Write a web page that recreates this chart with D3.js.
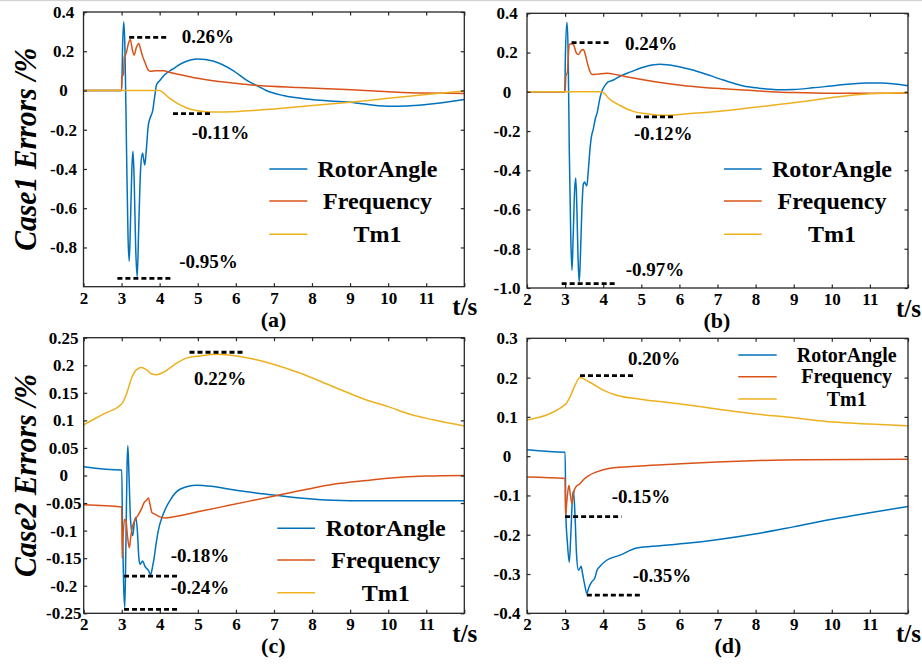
<!DOCTYPE html>
<html>
<head>
<meta charset="utf-8">
<script src="https://cdn.jsdelivr.net/npm/d3@7"></script>
<style>
  body { margin: 0; background: #fff; }
  svg { display: block; }
  svg text { font-family: "Liberation Serif", Tinos, "Times New Roman", Times, "Nimbus Roman", "DejaVu Serif", "Noto Serif", serif !important; font-weight: bold; fill: #000; }
</style>
</head>
<body>
<svg id="fig" width="922" height="665"></svg>
<script>
// ---- shared axis content ----
const timeTicks = [2, 3, 4, 5, 6, 7, 8, 9, 10, 11, 12];
const timeTickLabels = ["2", "3", "4", "5", "6", "7", "8", "9", "10", "11", "t/s"];
const seriesNames = ["RotorAngle", "Frequency", "Tm1"];

// ---- (a) Case1, first scenario ----
const aRotor = [[2,0],[2.98,0],[3.0,0],[3.03,0.25],[3.06,0.35],[3.09,0.2],[3.13,-0.3],[3.17,-0.75],[3.2,-0.87],[3.23,-0.7],[3.27,-0.4],[3.3,-0.31],[3.33,-0.45],[3.37,-0.8],[3.41,-0.95],[3.45,-0.7],[3.5,-0.4],[3.55,-0.32],[3.58,-0.35],[3.61,-0.38],[3.65,-0.3],[3.7,-0.18],[3.75,-0.14],[3.82,-0.1],[3.87,-0.03],[3.92,0.03],[4.0,0.05],[4.13,0.08],[4.35,0.11],[4.6,0.14],[5.0,0.16],[5.4,0.15],[5.94,0.1],[6.3,0.05],[6.6,0.02],[6.8,0.0],[7.25,-0.026],[7.99,-0.046],[9.0,-0.06],[10.0,-0.08],[10.5,-0.079],[11.0,-0.072],[12,-0.046]];
const aFreq = [[2,0],[3.0,0],[3.01,0.075],[3.05,0.08],[3.07,0.17],[3.12,0.19],[3.18,0.24],[3.23,0.26],[3.28,0.21],[3.33,0.18],[3.39,0.22],[3.45,0.24],[3.5,0.21],[3.56,0.17],[3.62,0.14],[3.68,0.11],[3.75,0.098],[3.9,0.1],[4.1,0.1],[4.3,0.09],[4.55,0.08],[5.0,0.062],[5.4,0.05],[5.85,0.04],[6.6,0.025],[7.65,0.015],[8.9,0.005],[9.9,-0.005],[10.9,-0.013],[12,-0.015]];
const aTm1 = [[2,0],[4.0,0],[4.1,-0.012],[4.2,-0.03],[4.35,-0.052],[4.55,-0.075],[4.75,-0.092],[4.95,-0.102],[5.2,-0.108],[5.45,-0.11],[5.94,-0.108],[7.0,-0.094],[8.0,-0.077],[9.0,-0.06],[10.0,-0.04],[11.0,-0.02],[12,-0.003]];
const aYTicks = [-0.8, -0.6, -0.4, -0.2, 0, 0.2, 0.4];
const aYTickLabels = ["-0.8", "-0.6", "-0.4", "-0.2", "0", "0.2", "0.4"];
const aNotes = [
  { text: "0.26%", value: 0.26, from: 3.2, to: 4.21 },
  { text: "-0.11%", value: -0.11, from: 4.35, to: 5.36 },
  { text: "-0.95%", value: -0.95, from: 2.89, to: 4.34 }
];

// ---- (b) Case1, second scenario ----
const bRotor = [[2,0],[2.99,0],[3.01,0.2],[3.05,0.355],[3.08,0.2],[3.11,-0.3],[3.15,-0.75],[3.18,-0.91],[3.21,-0.75],[3.25,-0.5],[3.28,-0.44],[3.31,-0.6],[3.34,-0.85],[3.37,-0.97],[3.4,-0.85],[3.44,-0.6],[3.48,-0.47],[3.51,-0.46],[3.54,-0.47],[3.57,-0.48],[3.61,-0.4],[3.65,-0.3],[3.69,-0.23],[3.74,-0.19],[3.79,-0.14],[3.85,-0.1],[3.9,-0.045],[3.96,0],[4.04,0.03],[4.13,0.05],[4.27,0.06],[4.5,0.085],[4.7,0.1],[5.14,0.13],[5.49,0.14],[5.93,0.13],[6.54,0.1],[7.15,0.06],[7.68,0.03],[8.03,0.02],[8.55,0.011],[9.0,0.012],[9.5,0.02],[10.1,0.032],[10.9,0.045],[11.3,0.045],[12,0.031]];
const bFreq = [[2,0],[3.0,0],[3.02,0.08],[3.06,0.1],[3.09,0.2],[3.11,0.24],[3.16,0.245],[3.22,0.24],[3.29,0.2],[3.35,0.19],[3.42,0.21],[3.48,0.215],[3.53,0.19],[3.58,0.15],[3.64,0.11],[3.71,0.088],[3.85,0.09],[4.09,0.095],[4.4,0.085],[4.79,0.07],[5.4,0.05],[6.2,0.03],[7.15,0.015],[8.1,0.004],[9.0,-0.004],[10.0,-0.008],[12,-0.008]];
const bTm1 = [[2,0],[3.95,0],[4.05,-0.012],[4.13,-0.03],[4.44,-0.07],[4.79,-0.1],[5.23,-0.114],[5.67,-0.12],[6.37,-0.11],[7.5,-0.09],[8.38,-0.07],[9.25,-0.05],[10.1,-0.027],[11,-0.01],[12,-0.005]];
const bYTicks = [-1.0, -0.8, -0.6, -0.4, -0.2, 0, 0.2, 0.4];
const bYTickLabels = ["-1.0", "-0.8", "-0.6", "-0.4", "-0.2", "0", "0.2", "0.4"];
const bNotes = [
  { text: "0.24%", value: 0.24, from: 3.17, to: 4.2 },
  { text: "-0.12%", value: -0.12, from: 4.86, to: 5.88 },
  { text: "-0.97%", value: -0.97, from: 2.91, to: 4.35 }
];

// ---- (c) Case2, first scenario ----
const cRotor = [[2,0.016],[2.99,0.01],[3.0,0.01],[3.02,-0.1],[3.05,-0.2],[3.08,-0.24],[3.11,-0.12],[3.14,0.02],[3.16,0.054],[3.19,0.0],[3.23,-0.08],[3.29,-0.109],[3.33,-0.085],[3.37,-0.076],[3.41,-0.1],[3.45,-0.15],[3.48,-0.161],[3.55,-0.155],[3.61,-0.165],[3.7,-0.172],[3.76,-0.18],[3.81,-0.165],[3.85,-0.15],[3.9,-0.125],[3.96,-0.1],[4.09,-0.07],[4.27,-0.045],[4.53,-0.025],[4.97,-0.0175],[5.4,-0.02],[5.93,-0.026],[6.8,-0.034],[7.68,-0.041],[8.56,-0.045],[9.43,-0.046],[12,-0.046]];
const cFreq = [[2,-0.053],[3.0,-0.057],[3.01,-0.15],[3.03,-0.12],[3.07,-0.08],[3.11,-0.082],[3.15,-0.11],[3.2,-0.131],[3.23,-0.115],[3.26,-0.1],[3.35,-0.08],[3.41,-0.074],[3.52,-0.06],[3.58,-0.05],[3.65,-0.045],[3.7,-0.041],[3.75,-0.055],[3.79,-0.067],[3.87,-0.07],[4.0,-0.075],[4.14,-0.077],[4.36,-0.075],[5.06,-0.065],[5.76,-0.055],[6.46,-0.045],[7.16,-0.035],[7.86,-0.025],[8.56,-0.016],[9.43,-0.009],[10,-0.005],[11,-0.001],[12,0]];
const cTm1 = [[2,0.092],[2.5,0.111],[3.0,0.13],[3.13,0.149],[3.26,0.177],[3.39,0.192],[3.52,0.196],[3.65,0.192],[3.79,0.184],[3.92,0.183],[4.09,0.187],[4.36,0.2],[4.7,0.213],[5.06,0.217],[5.5,0.22],[6.02,0.217],[6.54,0.21],[6.98,0.202],[7.68,0.186],[8.56,0.161],[9.43,0.137],[10,0.125],[10.57,0.111],[11.18,0.101],[12,0.09]];
const cYTicks = [-0.25, -0.2, -0.15, -0.1, -0.05, 0, 0.05, 0.1, 0.15, 0.2, 0.25];
const cYTickLabels = ["-0.25", "-0.2", "-0.15", "-0.1", "-0.05", "0", "0.05", "0.1", "0.15", "0.2", "0.25"];
const cNotes = [
  { text: "0.22%", value: 0.22, from: 4.78, to: 6.24 },
  { text: "-0.18%", value: -0.18, from: 3.06, to: 4.53 },
  { text: "-0.24%", value: -0.24, from: 3.06, to: 4.53 }
];

// ---- (d) Case2, second scenario ----
const dRotor = [[2,0.016],[2.99,0.01],[3.0,0.01],[3.02,-0.15],[3.06,-0.22],[3.11,-0.27],[3.15,-0.2],[3.19,-0.11],[3.22,-0.089],[3.26,-0.15],[3.3,-0.25],[3.35,-0.29],[3.39,-0.285],[3.42,-0.28],[3.46,-0.3],[3.52,-0.33],[3.57,-0.35],[3.62,-0.335],[3.7,-0.32],[3.78,-0.31],[3.84,-0.29],[3.9,-0.282],[4.09,-0.265],[4.44,-0.252],[4.88,-0.234],[5.49,-0.228],[6.19,-0.222],[6.98,-0.213],[7.94,-0.199],[8.99,-0.18],[10.04,-0.16],[11.0,-0.144],[12,-0.128]];
const dFreq = [[2,-0.053],[3.0,-0.057],[3.01,-0.15],[3.05,-0.11],[3.1,-0.074],[3.14,-0.1],[3.18,-0.12],[3.22,-0.095],[3.27,-0.08],[3.39,-0.07],[3.5,-0.058],[3.61,-0.05],[3.83,-0.04],[4.18,-0.031],[4.97,-0.025],[5.93,-0.02],[6.98,-0.015],[8.1,-0.011],[9.3,-0.009],[12,-0.008]];
const dTm1 = [[2,0.092],[3.0,0.131],[3.13,0.151],[3.26,0.18],[3.39,0.2],[3.45,0.199],[3.52,0.195],[3.74,0.183],[4.0,0.168],[4.35,0.155],[4.97,0.145],[5.93,0.134],[6.98,0.12],[7.94,0.108],[8.99,0.098],[10.04,0.087],[11.0,0.082],[12,0.077]];
const dYTicks = [-0.4, -0.3, -0.2, -0.1, 0, 0.1, 0.2, 0.3];
const dYTickLabels = ["-0.4", "-0.3", "-0.2", "-0.1", "0", "0.1", "0.2", "0.3"];
const dNotes = [
  { text: "0.20%", value: 0.20, from: 3.39, to: 4.83 },
  { text: "-0.15%", value: -0.15, from: 3.0, to: 4.48 },
  { text: "-0.35%", value: -0.35, from: 3.57, to: 5.01 }
];

// ---- styling ----
const lineColors = ["#0072BD", "#D95319", "#EDB120"];
const frameColor = "#262626";
const serifStack = '"Liberation Serif", Tinos, "Times New Roman", Times, "Nimbus Roman", "DejaVu Serif", "Noto Serif", serif';

// ---- panel layout ----
const panels = [
  { tag: "(a)", tagX: 273.5, tagY: 326.5, yLabel: "Case1 Errors /%",
    box: { l: 83.5, r: 464.3, t: 12, b: 286.7 }, yDomain: [-1.0, 0.4],
    series: [aRotor, aFreq, aTm1], yTicks: aYTicks, yTickLabels: aYTickLabels, notes: aNotes,
    noteLabels: [[181.7, 42.7], [191.7, 139.3], [179.3, 268.3]],
    legend: { x1: 269.3, x2: 307.3, rows: [169, 201, 234.3], textX: 377.5, size: 24, dy: 8 } },
  { tag: "(b)", tagX: 717, tagY: 328, yLabel: null,
    box: { l: 527, r: 908, t: 13.3, b: 288 }, yDomain: [-1.0, 0.4],
    series: [bRotor, bFreq, bTm1], yTicks: bYTicks, yTickLabels: bYTickLabels, notes: bNotes,
    noteLabels: [[625, 50], [634, 140], [625.7, 276]],
    legend: { x1: 724, x2: 761.7, rows: [169, 201, 234.3], textX: 832, size: 24, dy: 8 } },
  { tag: "(c)", tagX: 273.3, tagY: 653, yLabel: "Case2 Errors /%",
    box: { l: 83.7, r: 464.3, t: 337.7, b: 613.3 }, yDomain: [-0.25, 0.25],
    series: [cRotor, cFreq, cTm1], yTicks: cYTicks, yTickLabels: cYTickLabels, notes: cNotes,
    noteLabels: [[194, 385], [170.7, 562.3], [170.7, 594.3]],
    legend: { x1: 277.3, x2: 315, rows: [528.3, 560, 592.7], textX: 385.8, size: 24, dy: 8 } },
  { tag: "(d)", tagX: 728, tagY: 653, yLabel: null,
    box: { l: 527, r: 908, t: 338.3, b: 613.3 }, yDomain: [-0.4, 0.3],
    series: [dRotor, dFreq, dTm1], yTicks: dYTicks, yTickLabels: dYTickLabels, notes: dNotes,
    noteLabels: [[628, 365], [611.7, 503.3], [632.7, 581.7]],
    legend: { x1: 738.3, x2: 776.7, rows: [355, 376.7, 399], textX: 846.7, size: 20, dy: 6.5 } }
];

const svg = d3.select("#fig").attr("font-family", serifStack);
svg.append("rect").attr("width", 922).attr("height", 665).attr("fill", "#fff");
svg.append("rect").attr("x", 0).attr("y", 0).attr("width", 922).attr("height", 1.2).attr("fill", "#d4d4d4");

panels.forEach((p, pi) => {
  const { l, r, t, b } = p.box;
  const x = d3.scaleLinear().domain([2, 12]).range([l, r]);
  const y = d3.scaleLinear().domain(p.yDomain).range([b, t]);
  const g = svg.append("g");

  const clipId = "clip" + pi;
  g.append("clipPath").attr("id", clipId)
    .append("rect").attr("x", l).attr("y", t).attr("width", r - l).attr("height", b - t);

  // series curves
  const line = d3.line().x(d => x(d[0])).y(d => y(d[1])).curve(d3.curveMonotoneX);
  const curves = g.append("g").attr("clip-path", `url(#${clipId})`);
  p.series.forEach((s, i) => {
    curves.append("path").datum(s).attr("d", line)
      .attr("fill", "none").attr("stroke", lineColors[i]).attr("stroke-width", 1.5)
      .attr("stroke-linejoin", "round");
  });

  // axes with inward ticks on all four sides
  const tick = -3.5;
  const bottom = g.append("g").attr("transform", `translate(0,${b})`)
    .call(d3.axisBottom(x).tickValues(timeTicks).tickSize(tick).tickPadding(5)
      .tickFormat((d, i) => timeTickLabels[i]));
  bottom.selectAll("text").attr("font-size", 17);
  bottom.selectAll(".tick").filter((d, i) => i === timeTicks.length - 1)
    .select("text").attr("font-size", 25).attr("dy", "0.95em");

  const left = g.append("g").attr("transform", `translate(${l},0)`)
    .call(d3.axisLeft(y).tickValues(p.yTicks).tickSize(tick)
      .tickFormat((d, i) => p.yTickLabels[i]));
  left.selectAll("text").attr("font-size", 17).attr("text-anchor", "middle").attr("x", -20);

  g.append("g").attr("transform", `translate(0,${t})`)
    .call(d3.axisTop(x).tickValues(timeTicks).tickSize(tick).tickFormat(""));
  g.append("g").attr("transform", `translate(${r},0)`)
    .call(d3.axisRight(y).tickValues(p.yTicks).tickSize(tick).tickFormat(""));

  g.selectAll(".domain").remove();
  g.selectAll("g").attr("font-family", serifStack);
  g.selectAll(".tick line").attr("stroke", frameColor).attr("stroke-width", 1.2);
  g.selectAll(".tick text").attr("fill", "#000").attr("font-weight", "bold");

  g.append("rect").attr("x", l).attr("y", t).attr("width", r - l).attr("height", b - t)
    .attr("fill", "none").attr("stroke", frameColor).attr("stroke-width", 1.3);

  // peak / trough markers
  p.notes.forEach((n, i) => {
    const off = n.value > 0 ? -2 : 1.5;
    g.append("line")
      .attr("x1", x(n.from)).attr("x2", x(n.to))
      .attr("y1", y(n.value) + off).attr("y2", y(n.value) + off)
      .attr("stroke", "#000").attr("stroke-width", 2.8).attr("stroke-dasharray", "5,3");
    g.append("text").attr("x", p.noteLabels[i][0]).attr("y", p.noteLabels[i][1])
      .attr("font-size", 19).text(n.text);
  });

  // legend
  const lg = p.legend;
  seriesNames.forEach((name, i) => {
    g.append("line").attr("x1", lg.x1).attr("x2", lg.x2)
      .attr("y1", lg.rows[i]).attr("y2", lg.rows[i])
      .attr("stroke", lineColors[i]).attr("stroke-width", 1.6);
    g.append("text").attr("x", lg.textX).attr("y", lg.rows[i] + lg.dy)
      .attr("text-anchor", "middle").attr("font-size", lg.size).text(name);
  });

  // panel tag
  g.append("text").attr("x", p.tagX).attr("y", p.tagY).attr("text-anchor", "middle")
    .attr("font-size", 22).text(p.tag);

  // vertical axis title
  if (p.yLabel) {
    g.append("text")
      .attr("transform", `translate(36,${(t + b) / 2}) rotate(-90)`)
      .attr("text-anchor", "middle").attr("font-style", "italic").attr("font-size", 31)
      .attr("textLength", 203).attr("lengthAdjust", "spacingAndGlyphs")
      .text(p.yLabel);
  }
});
</script>
</body>
</html>
